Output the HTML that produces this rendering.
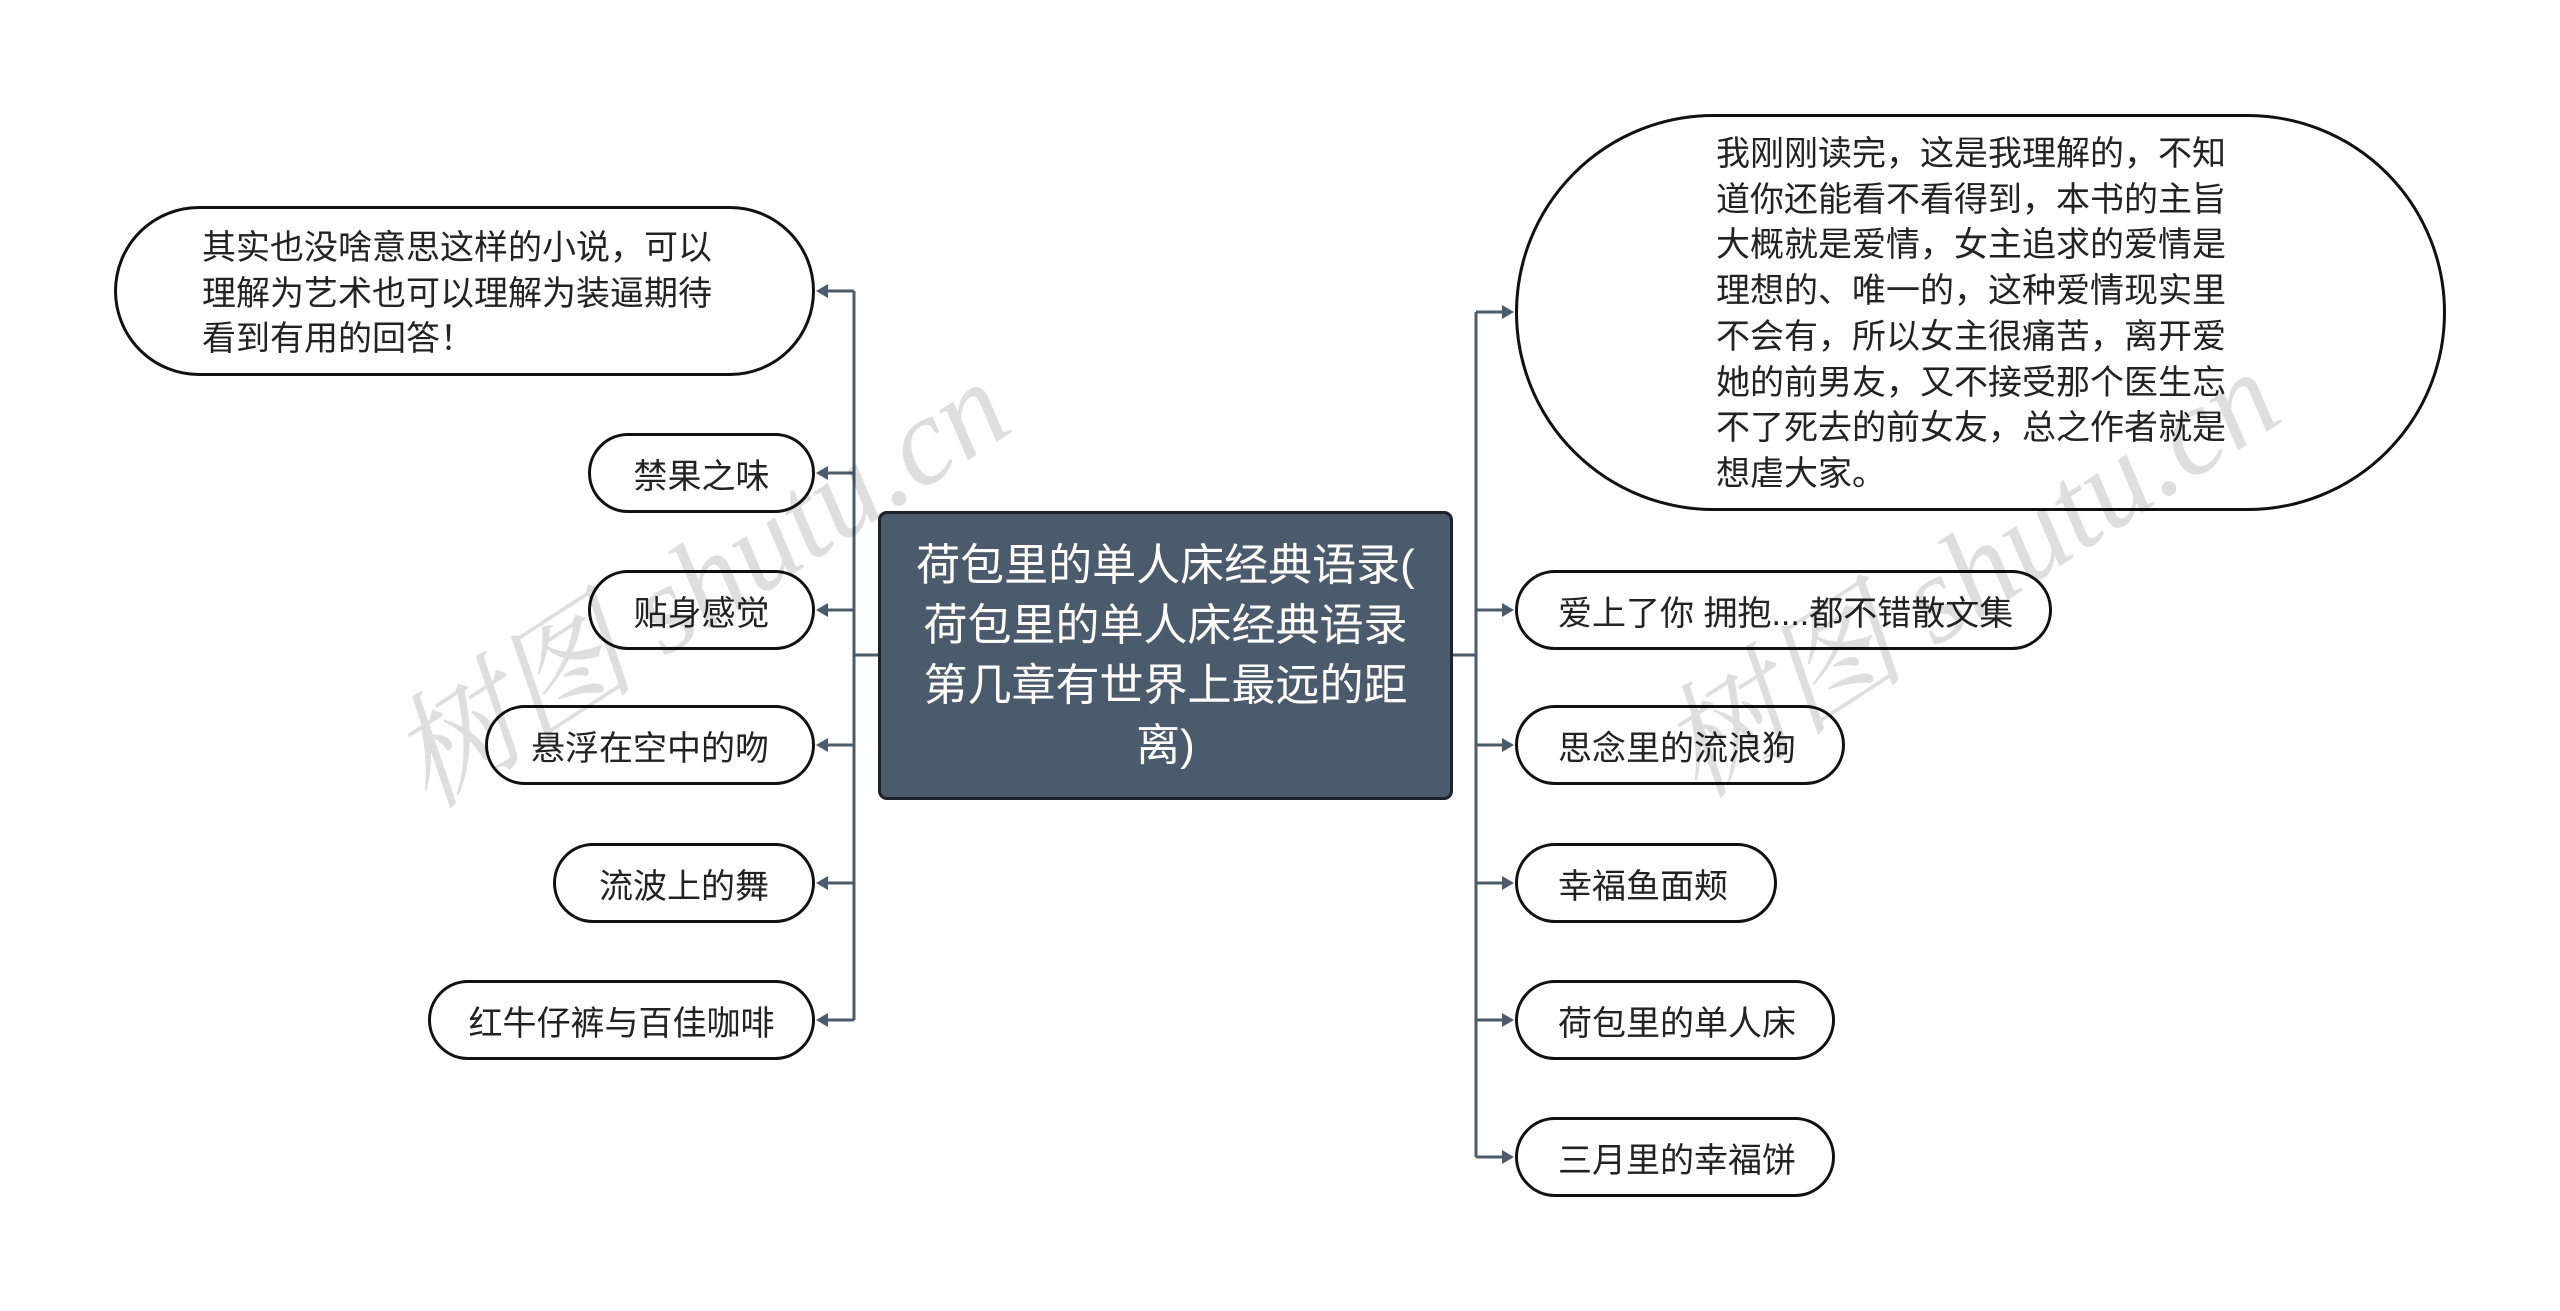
<!DOCTYPE html>
<html><head><meta charset="utf-8"><style>
html,body{margin:0;padding:0;background:#fff;}
body{width:2560px;height:1311px;position:relative;overflow:hidden;font-family:"Liberation Sans","Noto Sans CJK SC",sans-serif;}
.n{position:absolute;box-sizing:border-box;border:3px solid #111;background:#fff;border-radius:80px;display:flex;align-items:center;font-size:34px;color:#222;white-space:nowrap;}
.c{justify-content:center;}
.t{padding-left:40px;}
.big{align-items:flex-start;white-space:nowrap;line-height:45.7px;font-size:34px;}
.root{position:absolute;left:878px;top:511px;width:575px;height:289px;box-sizing:border-box;background:#4b5b6b;border:3px solid #1c232a;border-radius:9px;color:#fff;font-size:44px;line-height:60px;text-align:center;display:flex;align-items:center;justify-content:center;padding:0;white-space:nowrap;}
.wm{position:absolute;color:rgba(0,0,0,0.13);font-family:"Liberation Serif","Noto Serif CJK SC",serif;font-style:italic;font-size:125px;transform:rotate(-33deg);transform-origin:left top;white-space:nowrap;}
</style></head><body>
<svg width="2560" height="1311" style="position:absolute;left:0;top:0" xmlns="http://www.w3.org/2000/svg">
<g stroke="#4b5b6b" stroke-width="3" fill="none">
<line x1="854" y1="291" x2="854" y2="1020"/>
<line x1="854" y1="655" x2="878" y2="655"/>
<line x1="1453" y1="655" x2="1476" y2="655"/>
<line x1="1476" y1="312" x2="1476" y2="1157"/>
<line x1="854" y1="291" x2="822" y2="291"/>
<line x1="854" y1="473" x2="822" y2="473"/>
<line x1="854" y1="610" x2="822" y2="610"/>
<line x1="854" y1="745" x2="822" y2="745"/>
<line x1="854" y1="883" x2="822" y2="883"/>
<line x1="854" y1="1020" x2="822" y2="1020"/>
<line x1="1476" y1="312" x2="1508" y2="312"/>
<line x1="1476" y1="610" x2="1508" y2="610"/>
<line x1="1476" y1="745" x2="1508" y2="745"/>
<line x1="1476" y1="883" x2="1508" y2="883"/>
<line x1="1476" y1="1020" x2="1508" y2="1020"/>
<line x1="1476" y1="1157" x2="1508" y2="1157"/>
</g>
<g fill="#4b5b6b">
<polygon points="816,291 828,284 828,298"/>
<polygon points="816,473 828,466 828,480"/>
<polygon points="816,610 828,603 828,617"/>
<polygon points="816,745 828,738 828,752"/>
<polygon points="816,883 828,876 828,890"/>
<polygon points="816,1020 828,1013 828,1027"/>
<polygon points="1514,312 1502,305 1502,319"/>
<polygon points="1514,610 1502,603 1502,617"/>
<polygon points="1514,745 1502,738 1502,752"/>
<polygon points="1514,883 1502,876 1502,890"/>
<polygon points="1514,1020 1502,1013 1502,1027"/>
<polygon points="1514,1157 1502,1150 1502,1164"/>
</g>
</svg>
<div class="n big" style="left:114px;top:206px;width:701px;height:170px;border-radius:85px;padding:17px 0 0 85px;">其实也没啥意思这样的小说，可以<br>理解为艺术也可以理解为装逼期待<br>看到有用的回答！</div>
<div class="n c" style="left:588px;top:433px;width:227px;height:80px;">禁果之味</div>
<div class="n c" style="left:588px;top:570px;width:227px;height:80px;">贴身感觉</div>
<div class="n c" style="left:485px;top:705px;width:330px;height:80px;">悬浮在空中的吻</div>
<div class="n c" style="left:553px;top:843px;width:262px;height:80px;">流波上的舞</div>
<div class="n c" style="left:428px;top:980px;width:387px;height:80px;">红牛仔裤与百佳咖啡</div>
<div class="root">荷包里的单人床经典语录(<br>荷包里的单人床经典语录<br>第几章有世界上最远的距<br>离)</div>
<div class="n big" style="left:1515px;top:114px;width:931px;height:397px;border-radius:200px;padding:15px 0 0 198px;">我刚刚读完，这是我理解的，不知<br>道你还能看不看得到，本书的主旨<br>大概就是爱情，女主追求的爱情是<br>理想的、唯一的，这种爱情现实里<br>不会有，所以女主很痛苦，离开爱<br>她的前男友，又不接受那个医生忘<br>不了死去的前女友，总之作者就是<br>想虐大家。</div>
<div class="n t" style="left:1515px;top:570px;width:537px;height:80px;">爱上了你 拥抱....都不错散文集</div>
<div class="n t" style="left:1515px;top:705px;width:330px;height:80px;">思念里的流浪狗</div>
<div class="n t" style="left:1515px;top:843px;width:262px;height:80px;">幸福鱼面颊</div>
<div class="n t" style="left:1515px;top:980px;width:320px;height:80px;">荷包里的单人床</div>
<div class="n t" style="left:1515px;top:1117px;width:320px;height:80px;">三月里的幸福饼</div>
<div class="wm" style="left:350px;top:690px;">树图 shutu.cn</div>
<div class="wm" style="left:1620px;top:680px;">树图 shutu.cn</div>
</body></html>
